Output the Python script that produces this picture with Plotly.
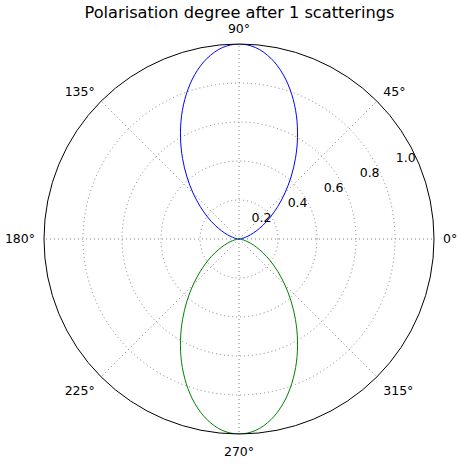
import plotly.graph_objects as go

# Scattering angles (degrees) and polarisation degree
theta_upper = [0, 5, 10, 15, 20, 25, 30, 35, 40, 45, 50, 55, 60, 65, 70, 75, 80, 85, 90,
               95, 100, 105, 110, 115, 120, 125, 130, 135, 140, 145, 150, 155, 160, 165, 170, 175, 180]
pol_upper = [0.0, 0.004, 0.015, 0.035, 0.062, 0.098, 0.143, 0.197, 0.260, 0.333, 0.415, 0.505, 0.600,
             0.697, 0.790, 0.874, 0.941, 0.985, 1.0,
             0.985, 0.941, 0.874, 0.790, 0.697, 0.600, 0.505, 0.415, 0.333, 0.260, 0.197, 0.143,
             0.098, 0.062, 0.035, 0.015, 0.004, 0.0]
theta_lower = [180, 185, 190, 195, 200, 205, 210, 215, 220, 225, 230, 235, 240, 245, 250, 255, 260, 265, 270,
               275, 280, 285, 290, 295, 300, 305, 310, 315, 320, 325, 330, 335, 340, 345, 350, 355, 360]
pol_lower = [0.0, 0.004, 0.015, 0.035, 0.062, 0.098, 0.143, 0.197, 0.260, 0.333, 0.415, 0.505, 0.600,
             0.697, 0.790, 0.874, 0.941, 0.985, 1.0,
             0.985, 0.941, 0.874, 0.790, 0.697, 0.600, 0.505, 0.415, 0.333, 0.260, 0.197, 0.143,
             0.098, 0.062, 0.035, 0.015, 0.004, 0.0]

radial_ticks = [0.2, 0.4, 0.6, 0.8, 1.0]
radial_labels = ["0.2", "0.4", "0.6", "0.8", "1.0"]
angle_ticks = [0, 45, 90, 135, 180, 225, 270, 315]
angle_labels = ["0°", "45°", "90°", "135°", "180°", "225°", "270°", "315°"]
title_text = "Polarisation degree after 1 scatterings"

fig = go.Figure()
fig.add_trace(go.Scatterpolar(r=pol_upper, theta=theta_upper, mode="lines",
                              line=dict(color="#0000ff", width=1, shape="spline", smoothing=1),
                              showlegend=False))
fig.add_trace(go.Scatterpolar(r=pol_lower, theta=theta_lower, mode="lines",
                              line=dict(color="#008000", width=1, shape="spline", smoothing=1),
                              showlegend=False))

grid_color = "#808080"
grid_dash = "1px,3px"

fig.update_layout(
    width=458, height=464,
    margin=dict(l=0, r=0, t=0, b=0),
    paper_bgcolor="white",
    font=dict(family="DejaVu Sans", size=12, color="black"),
    title=dict(text=title_text, x=239.5 / 458, xanchor="center", y=1 - 12 / 464, yanchor="middle",
               font=dict(family="DejaVu Sans", size=16.2, color="black")),
    polar=dict(
        domain=dict(x=[44 / 458, 434 / 458], y=[30 / 464, 420 / 464]),
        bgcolor="white",
        radialaxis=dict(range=[0, 1], tickvals=radial_ticks, ticktext=radial_labels,
                        angle=22.5, tickangle=22.5, side="counterclockwise",
                        showline=False, ticks="",
                        gridcolor=grid_color, griddash=grid_dash, gridwidth=1,
                        tickfont=dict(size=12.5, color="black")),
        angularaxis=dict(tickvals=angle_ticks, ticktext=angle_labels, rotation=0,
                         direction="counterclockwise", showline=True, linecolor="black",
                         linewidth=1, ticks="outside", ticklen=6, tickcolor="rgba(0,0,0,0)",
                         gridcolor=grid_color, griddash=grid_dash, gridwidth=1,
                         tickfont=dict(size=12.5, color="black")),
    ),
)

fig.write_html("out.html", config={"displayModeBar": False},
               post_script="document.body.style.margin='0';")
